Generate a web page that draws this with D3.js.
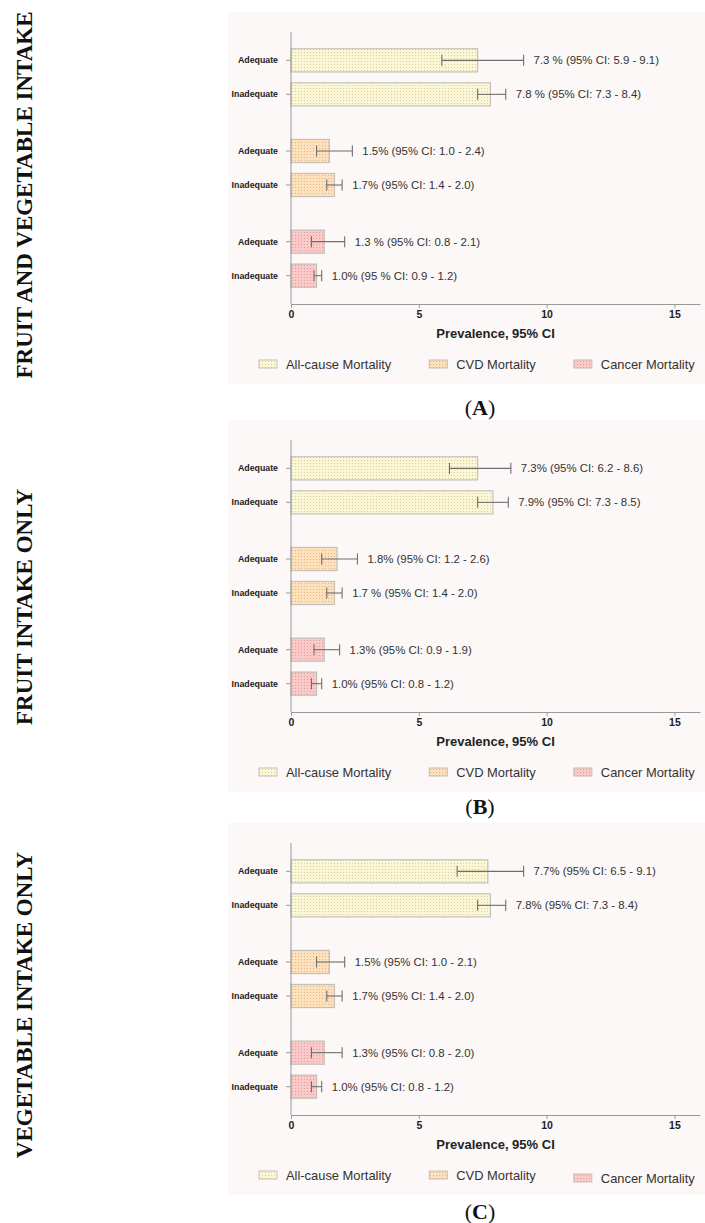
<!DOCTYPE html>
<html>
<head>
<meta charset="utf-8">
<script src="https://cdn.jsdelivr.net/npm/d3@7"></script>
<style>
  body { margin: 0; background: #fff; }
  svg { display: block; }
</style>
</head>
<body>
<svg width="705" height="1223"></svg>
<script>
// panel titles + captions
let panelTitles = ["FRUIT AND VEGETABLE INTAKE", "FRUIT INTAKE ONLY", "VEGETABLE INTAKE ONLY"]
let captions = ["A", "B", "C"]

let groups = ["All-cause Mortality", "CVD Mortality", "Cancer Mortality"]
let levels = ["Adequate", "Inadequate"]

// prevalence, order: all-cause adq/inadq, cvd adq/inadq, cancer adq/inadq
let prevA = [7.3, 7.8, 1.5, 1.7, 1.3, 1.0]
let lowA  = [5.9, 7.3, 1.0, 1.4, 0.8, 0.9]
let highA = [9.1, 8.4, 2.4, 2.0, 2.1, 1.2]
let labelsA = ["7.3 % (95% CI: 5.9 - 9.1)", "7.8 % (95% CI: 7.3 - 8.4)", "1.5% (95% CI: 1.0 - 2.4)",
               "1.7% (95% CI: 1.4 - 2.0)", "1.3 % (95% CI: 0.8 - 2.1)", "1.0% (95 % CI: 0.9 - 1.2)"]

let prevB = [7.3, 7.9, 1.8, 1.7, 1.3, 1.0]
let lowB  = [6.2, 7.3, 1.2, 1.4, 0.9, 0.8]
let highB = [8.6, 8.5, 2.6, 2.0, 1.9, 1.2]
let labelsB = ["7.3% (95% CI: 6.2 - 8.6)", "7.9% (95% CI: 7.3 - 8.5)", "1.8% (95% CI: 1.2 - 2.6)",
               "1.7 % (95% CI: 1.4 - 2.0)", "1.3% (95% CI: 0.9 - 1.9)", "1.0% (95% CI: 0.8 - 1.2)"]

let prevC = [7.7, 7.8, 1.5, 1.7, 1.3, 1.0]
let lowC  = [6.5, 7.3, 1.0, 1.4, 0.8, 0.8]
let highC = [9.1, 8.4, 2.1, 2.0, 2.0, 1.2]
let labelsC = ["7.7% (95% CI: 6.5 - 9.1)", "7.8% (95% CI: 7.3 - 8.4)", "1.5% (95% CI: 1.0 - 2.1)",
               "1.7% (95% CI: 1.4 - 2.0)", "1.3% (95% CI: 0.8 - 2.0)", "1.0% (95% CI: 0.8 - 1.2)"]

let xTicks = [0, 5, 10, 15]

let allPrev = [prevA, prevB, prevC]
let allLow = [lowA, lowB, lowC]
let allHigh = [highA, highB, highC]
let allLabels = [labelsA, labelsB, labelsC]

let fills = ["#fbf6d6", "#fde0bc", "#fcc9c9"]
let dots = ["#d8cf9c", "#e3b483", "#e19e9e"]

let svg = d3.select("svg")
let sans = "'Liberation Sans', Arial, sans-serif"
let serif = "'Liberation Serif', 'Times New Roman', serif"

// dotted fills
let defs = svg.append("defs")
groups.forEach((g, i) => {
    let p = defs.append("pattern")
        .attr("id", "pat" + i)
        .attr("patternUnits", "userSpaceOnUse")
        .attr("width", 3).attr("height", 3)
    p.append("rect").attr("width", 3).attr("height", 3).attr("fill", fills[i])
    p.append("rect").attr("x", 1).attr("y", 1).attr("width", 1).attr("height", 1).attr("fill", dots[i])
})

let panelTops = [12, 420, 823]
let captionY = [407, 806, 1211]
let panelH = 372
let panelLeft = 228

let x = d3.scaleLinear().domain([0, 16]).range([291, 700])

let yGroup = d3.scaleBand().domain(groups).range([20, 292]).paddingInner(0.25).paddingOuter(0.125)
let yLevel = d3.scaleBand().domain(levels).range([0, yGroup.bandwidth()]).paddingInner(0.32).paddingOuter(0.16)

function rowY(i) {
    return yGroup(groups[Math.floor(i / 2)]) + yLevel(levels[i % 2])
}

panelTops.forEach((top, p) => {
    let g = svg.append("g").attr("transform", `translate(0,${top})`)

    g.append("rect")
        .attr("x", panelLeft).attr("y", 0)
        .attr("width", 705 - panelLeft).attr("height", panelH)
        .style("fill", "#fcf8f7")

    let rows = allPrev[p].map((v, i) => ({
        v: v, lo: allLow[p][i], hi: allHigh[p][i], label: allLabels[p][i],
        level: levels[i % 2], gi: Math.floor(i / 2), y: rowY(i)
    }))

    // y ticks + category labels
    g.selectAll(".ytick")
        .data(rows)
        .join("line")
        .attr("x1", x(0) - 5).attr("x2", x(0))
        .attr("y1", d => d.y + yLevel.bandwidth() / 2)
        .attr("y2", d => d.y + yLevel.bandwidth() / 2)
        .style("stroke", "#999")

    g.selectAll(".ylab")
        .data(rows)
        .join("text")
        .attr("x", x(0) - 13)
        .attr("y", d => d.y + yLevel.bandwidth() / 2)
        .attr("dy", "0.35em")
        .attr("text-anchor", "end")
        .style("font-family", sans)
        .style("font-weight", "bold")
        .style("font-size", "8.8px")
        .style("fill", "#222")
        .text(d => d.level)

    // bars
    g.selectAll(".bar")
        .data(rows)
        .join("rect")
        .attr("x", x(0))
        .attr("y", d => d.y)
        .attr("width", d => x(d.v) - x(0))
        .attr("height", yLevel.bandwidth())
        .style("fill", d => `url(#pat${d.gi})`)
        .style("stroke", "#c4c0b8")
        .style("stroke-width", 1.2)

    // error bars
    let eb = g.selectAll(".err")
        .data(rows)
        .join("g")
        .attr("transform", d => `translate(0,${d.y + yLevel.bandwidth() / 2})`)
        .style("stroke", "#6e6e6e")
        .style("stroke-width", 1.1)
    eb.append("line").attr("x1", d => x(d.lo)).attr("x2", d => x(d.hi))
    eb.append("line").attr("x1", d => x(d.lo)).attr("x2", d => x(d.lo)).attr("y1", -5.5).attr("y2", 5.5)
    eb.append("line").attr("x1", d => x(d.hi)).attr("x2", d => x(d.hi)).attr("y1", -5.5).attr("y2", 5.5)

    g.selectAll(".val")
        .data(rows)
        .join("text")
        .attr("x", d => x(d.hi) + 10)
        .attr("y", d => d.y + yLevel.bandwidth() / 2)
        .attr("dy", "0.36em")
        .style("font-family", sans)
        .style("font-size", "11.4px")
        .style("fill", "#333")
        .text(d => d.label)

    // y axis line
    g.append("line")
        .attr("x1", x(0)).attr("x2", x(0))
        .attr("y1", yGroup.range()[0]).attr("y2", yGroup.range()[1])
        .style("stroke", "#999")

    // x axis
    let xAxis = g.append("g")
        .attr("transform", `translate(0,${yGroup.range()[1]})`)
        .call(d3.axisBottom(x).tickValues(xTicks).tickSize(4).tickSizeOuter(0))
    xAxis.select(".domain").style("stroke", "#999")
    xAxis.selectAll(".tick line").style("stroke", "#999")
    xAxis.selectAll(".tick text")
        .attr("y", 7)
        .style("font-family", sans)
        .style("font-weight", "bold")
        .style("font-size", "10.5px")
        .style("fill", "#222")

    g.append("text")
        .attr("x", (x.range()[0] + x.range()[1]) / 2)
        .attr("y", 321)
        .attr("dy", "0.35em")
        .attr("text-anchor", "middle")
        .style("font-family", sans)
        .style("font-weight", "bold")
        .style("font-size", "13px")
        .style("fill", "#222")
        .text("Prevalence, 95% CI")

    // legend
    let lx = 259
    groups.forEach((name, i) => {
        let ly = (p == 2 && i == 2) ? 355 : 352
        g.append("rect")
            .attr("x", lx).attr("y", ly - 4)
            .attr("width", 18).attr("height", 8)
            .style("fill", `url(#pat${i})`)
            .style("stroke", "#c4c0b8")
        let t = g.append("text")
            .attr("x", lx + 27)
            .attr("y", ly)
            .attr("dy", "0.35em")
            .style("font-family", sans)
            .style("font-size", "12.9px")
            .style("fill", "#333")
            .text(name)
        lx = lx + 27 + t.node().getComputedTextLength() + 38
    })

    // caption under panel
    let cap = svg.append("text")
        .attr("x", 480)
        .attr("y", captionY[p])
        .attr("dy", "0.35em")
        .attr("text-anchor", "middle")
        .style("font-family", serif)
        .style("font-size", "22px")
        .style("fill", "#111")
    cap.append("tspan").text("(")
    cap.append("tspan").style("font-weight", "bold").text(captions[p])
    cap.append("tspan").text(")")
})

// rotated side titles
let titleCenters = [195, 607, 1005]
svg.selectAll(".side")
    .data(panelTitles)
    .join("text")
    .attr("transform", (d, i) => `translate(24,${titleCenters[i]}) rotate(-90)`)
    .attr("dy", "0.35em")
    .attr("text-anchor", "middle")
    .style("font-family", serif)
    .style("font-weight", "bold")
    .style("font-size", "23px")
    .style("fill", "#111")
    .text(d => d)
</script>
</body>
</html>
